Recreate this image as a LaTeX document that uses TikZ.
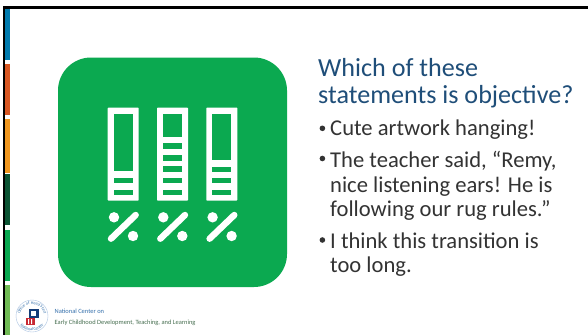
\documentclass[tikz,border=0pt]{standalone}
\usepackage{fontspec}
\setmainfont{Carlito}
\usetikzlibrary{decorations.text}
\definecolor{gr}{HTML}{0BA950}
\definecolor{ttl}{HTML}{1F4E79}
\definecolor{bodyc}{HTML}{333333}
\definecolor{sa}{RGB}{0,122,174}
\definecolor{sb}{RGB}{216,87,34}
\definecolor{sc}{RGB}{240,150,30}
\definecolor{sd}{RGB}{12,84,52}
\definecolor{se}{RGB}{8,168,80}
\definecolor{sf}{RGB}{112,186,84}
\definecolor{ring}{RGB}{170,195,225}
\definecolor{blockb}{RGB}{20,60,120}
\definecolor{blockr}{RGB}{200,40,50}
\definecolor{fa}{RGB}{50,110,170}
\definecolor{fb}{RGB}{70,110,80}
\tikzset{
  bar/.style={fill=white,rounded corners=0.8pt},
  hole/.style={fill=gr},
  pct/.style={draw=white,line width=6.4pt,line cap=round},
  dotp/.style={fill=white},
  titletext/.style={anchor=base west,inner sep=0pt,font=\fontsize{26.1}{26.1}\selectfont,text=ttl},
  bodytext/.style={anchor=base west,inner sep=0pt,font=\fontsize{22.6}{22.6}\selectfont,text=bodyc},
  bul/.style={fill=bodyc},
  foot/.style={anchor=base west,inner sep=0pt}
}
\newcommand{\pbar}[3]{%
  \fill[bar] (#1,107.5) rectangle (#1+31,200.7);
  \fill[hole] (#1+6,113.5) rectangle (#1+25,#2);
  \foreach \yy in {#3}{\fill[hole] (#1+6,\yy) rectangle (#1+25,\yy+5.7);}
  \fill[dotp] (#1+6.3,217.3) circle (5.2);
  \fill[dotp] (#1+25.3,236) circle (5.2);
  \draw[pct] (#1+28,215) -- (#1+3.3,238.7);
}
\begin{document}
\begin{tikzpicture}[x=1pt,y=-1pt]
\useasboundingbox (0,0) rectangle (588,335);
\fill[white] (0,0) rectangle (588,335);
% left colour strip
\fill[black] (3,6) rectangle (5,335);
\fill[black] (3,6) rectangle (588,8.5);
\fill[sa] (5,8.5) rectangle (10,60);
\fill[sb] (5,63.5) rectangle (10,115);
\fill[sc] (5,119) rectangle (10,173);
\fill[sd] (5,174) rectangle (10,225);
\fill[se] (5,230) rectangle (10,281);
\fill[sf] (5,285) rectangle (10,335);
% icon
\fill[gr,rounded corners=33pt] (58,57.5) rectangle (287,287);
\pbar{107.7}{171}{177.5,189.5}
\pbar{157}{137}{143.3,155,166.3,177.5,189.5}
\pbar{206.3}{160}{166.7,177.5,189.5}
% title
\node[titletext] (t1) at (318,76) {Which of these};
\node[titletext] (t2) at (318,103.5) {statements is objective?};
% bullets
\fill[bul] (322.4,128.3) circle (2.8);
\fill[bul] (322.4,158.5) circle (2.8);
\fill[bul] (322.4,240) circle (2.8);
\node[bodytext] (b1) at (330,135.7) {Cute artwork hanging!};
\node[bodytext] (b2) at (330,167.3) {The teacher said, “Remy,};
\node[bodytext] (b3) at (330,192.5) {nice listening ears! He is};
\node[bodytext] (b4) at (330,216.7) {following our rug rules.”};
\node[bodytext] (b5) at (330,248.3) {I think this transition is};
\node[bodytext] (b6) at (330,272.7) {too long.};
% footer logo
\draw[ring,line width=0.4pt] (32,316) circle (16);
\path[decorate,decoration={text along path,text align=center,text={|\fontsize{4.2}{4.2}\selectfont\color{fa}|Office of Head Start}}] (20.2,318.1) arc[start angle=170,end angle=370,radius=12];
\path[decorate,decoration={text along path,text align=center,text={|\fontsize{4.2}{4.2}\selectfont\color{fa}|National Center}}] (17.9,321.1) arc[start angle=160,end angle=20,radius=15];
\fill[blockb] (28.5,308.7) rectangle (39,318);
\fill[white] (31,311) rectangle (36,316);
\fill[blockr] (26,317.5) rectangle (35,325);
\fill[white] (28,319) rectangle (29,324) (31,319) rectangle (32,324);
\node[foot,font=\fontsize{6.45}{6.45}\selectfont,text=fa] (f1) at (54.5,313) {National Center on};
\node[foot,font=\fontsize{6.45}{6.45}\selectfont,text=fb] (f2) at (54.5,324) {Early Childhood Development, Teaching, and Learning};
\end{tikzpicture}
\end{document}
